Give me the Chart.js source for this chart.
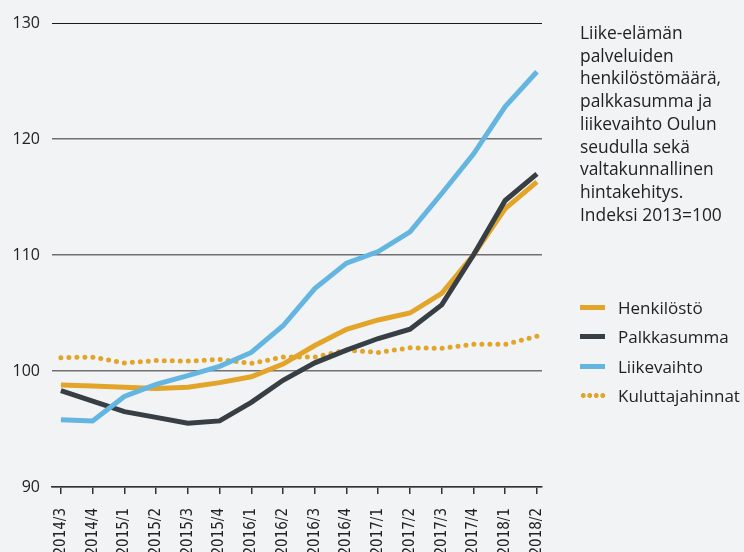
<!DOCTYPE html>
<html lang="fi">
<head>
<meta charset="utf-8">
<script src="https://cdn.jsdelivr.net/npm/chart.js@4/dist/chart.umd.min.js"></script>
<style>
    html, body { margin: 0; padding: 0; background: #f2f3f5; }
    #wrap { position: relative; width: 744px; height: 552px; overflow: hidden; }
    #indexChart { position: absolute; left: 0; top: 0; }
    .note {
        position: absolute; left: 580px; top: 21px;
        font-family: 'Open Sans', sans-serif; font-size: 17.4px; line-height: 22.7px;
        color: #222;
    }
    .legend { position: absolute; left: 580px; top: 293px; font-family: 'Open Sans', sans-serif; font-size: 17px; color: #222; }
    .legend-item { height: 29.3px; display: flex; align-items: center; }
    .swatch { width: 25px; height: 5px; margin-right: 13px; }
    .swatch.dotted { height: 5px; background: radial-gradient(circle, var(--c) 2.2px, transparent 2.6px) 0 0 / 6.5px 5px repeat-x; }
</style>
</head>
<body>
<div id="wrap">
    <canvas id="indexChart" width="744" height="552"></canvas>
    <div class="note">Liike-elämän<br>palveluiden<br>henkilöstömäärä,<br>palkkasumma ja<br>liikevaihto Oulun<br>seudulla sekä<br>valtakunnallinen<br>hintakehitys.<br>Indeksi 2013=100</div>
    <div class="legend" id="legend"></div>
</div>
<script>
// Neljännesvuodet
const periods = ['2014/3', '2014/4', '2015/1', '2015/2', '2015/3', '2015/4', '2016/1', '2016/2',
    '2016/3', '2016/4', '2017/1', '2017/2', '2017/3', '2017/4', '2018/1', '2018/2'];

// Indeksit, 2013 = 100
const henkilosto = [98.8, 98.7, 98.6, 98.5, 98.6, 99.0, 99.5, 100.6, 102.2, 103.6, 104.4, 105.0, 106.7, 110.0, 114.0, 116.3];
const palkkasumma = [98.3, 97.4, 96.5, 96.0, 95.5, 95.7, 97.3, 99.2, 100.7, 101.8, 102.8, 103.6, 105.7, 110.0, 114.7, 117.0];
const liikevaihto = [95.8, 95.7, 97.8, 98.85, 99.6, 100.4, 101.6, 103.9, 107.1, 109.3, 110.3, 112.0, 115.3, 118.7, 122.8, 125.8];
const kuluttajahinnat = [101.15, 101.2, 100.7, 100.9, 100.85, 101.0, 100.65, 101.2, 101.2, 101.8, 101.6, 102.0, 101.95, 102.3, 102.3, 103.0];

const yTicks = [90, 100, 110, 120, 130];

const GOLD = '#e2a52a';
const DARK = '#373f44';
const BLUE = '#64b6e0';

const toPoints = values => values.map((v, i) => ({ x: i, y: v }));

// order: pienempi piirretään päälle
const series = [
    { label: 'Henkilöstö', values: henkilosto, color: GOLD, order: 3 },
    { label: 'Palkkasumma', values: palkkasumma, color: DARK, order: 2 },
    { label: 'Liikevaihto', values: liikevaihto, color: BLUE, order: 1 },
    { label: 'Kuluttajahinnat', values: kuluttajahinnat, color: GOLD, order: 4, dotted: true }
];

const ctx = document.getElementById('indexChart').getContext('2d');

const indexChart = new Chart(ctx, {
    type: 'line',
    data: {
        datasets: series.map(s => ({
            label: s.label,
            data: toPoints(s.values),
            borderColor: s.color,
            backgroundColor: s.color,
            borderWidth: 5,
            borderDash: s.dotted ? [0, 8] : [],
            borderCapStyle: s.dotted ? 'round' : 'butt',
            pointRadius: 0,
            tension: 0,
            order: s.order
        }))
    },
    options: {
        responsive: false,
        animation: false,
        layout: { padding: { left: 12, right: 202, top: 23, bottom: 0 } },
        plugins: { legend: { display: false }, tooltip: { enabled: false } },
        scales: {
            x: {
                type: 'linear',
                min: -0.28,
                max: 15.16,
                afterBuildTicks: scale => { scale.ticks = periods.map((_, i) => ({ value: i })); },
                afterFit: scale => { scale.height = 65; },
                grid: { drawOnChartArea: false, drawTicks: true, tickLength: 7, color: '#333', lineWidth: 1.5 },
                border: { display: true, color: '#333', width: 1.5 },
                ticks: {
                    autoSkip: false,
                    minRotation: 90,
                    maxRotation: 90,
                    padding: 14,
                    color: '#222',
                    font: { family: "'DejaVu Sans Condensed', 'Liberation Sans', sans-serif", size: 15 },
                    callback: value => periods[value]
                }
            },
            y: {
                min: 90,
                max: 130,
                afterBuildTicks: scale => { scale.ticks = yTicks.map(v => ({ value: v })); },
                afterFit: scale => { scale.width = 40; },
                grid: {
                    drawTicks: false,
                    color: c => c.tick.value === 130 ? '#1a1a1a' : '#707070',
                    lineWidth: c => c.tick.value === 130 ? 1 : 1.5
                },
                border: { display: false },
                ticks: {
                    padding: 12,
                    color: '#222',
                    font: { family: "'Open Sans', sans-serif", size: 16 }
                }
            }
        }
    }
});

// Selite
const legendEl = document.getElementById('legend');
series.forEach(s => {
    const item = document.createElement('div');
    item.className = 'legend-item';
    const sw = document.createElement('span');
    sw.className = s.dotted ? 'swatch dotted' : 'swatch';
    if (s.dotted) sw.style.setProperty('--c', s.color); else sw.style.background = s.color;
    item.appendChild(sw);
    item.appendChild(document.createTextNode(s.label));
    legendEl.appendChild(item);
});
</script>
</body>
</html>
